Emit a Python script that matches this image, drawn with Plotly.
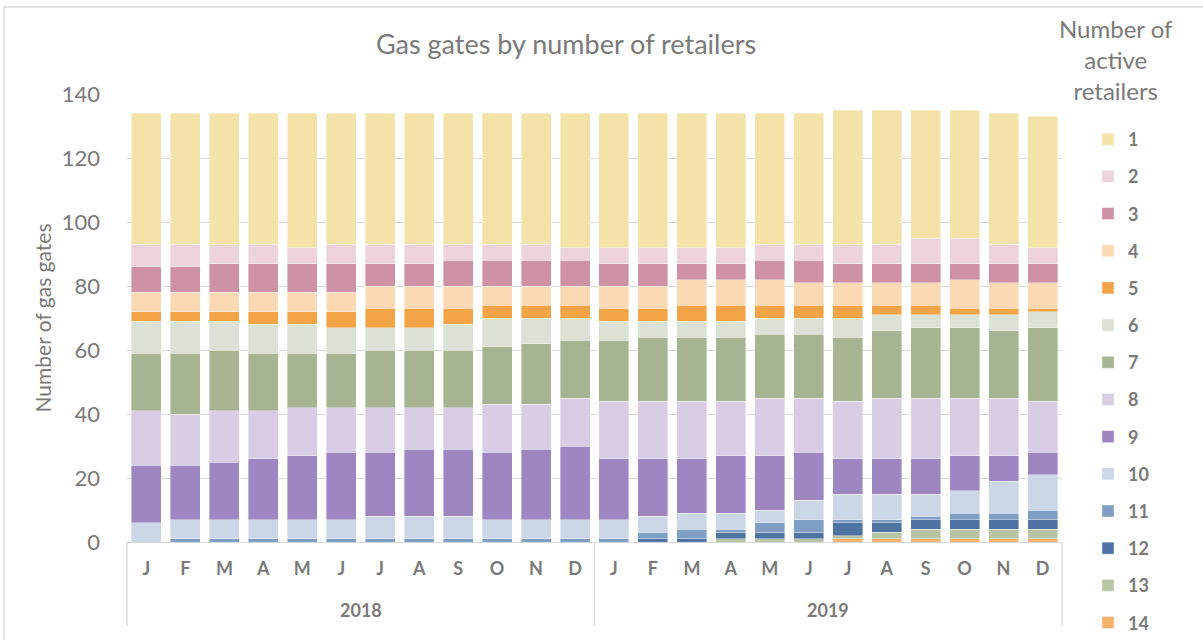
import plotly.graph_objects as go

months = ["J", "F", "M", "A", "M", "J", "J", "A", "S", "O", "N", "D"]
years = ["2018", "2019"]

r1 = [41, 41, 41, 41, 42, 41, 41, 41, 41, 41, 41, 42, 42, 42, 42, 42, 41, 41, 42, 42, 40, 40, 41, 41]
r2 = [7, 7, 6, 6, 5, 6, 6, 6, 5, 5, 5, 4, 5, 5, 5, 5, 5, 5, 6, 6, 8, 8, 6, 5]
r3 = [8, 8, 9, 9, 9, 9, 7, 7, 8, 8, 8, 8, 7, 7, 5, 5, 6, 7, 6, 6, 6, 5, 6, 6]
r4 = [6, 6, 6, 6, 6, 6, 7, 7, 7, 6, 6, 6, 7, 7, 8, 8, 8, 7, 7, 7, 7, 9, 8, 8]
r5 = [3, 3, 3, 4, 4, 5, 6, 6, 5, 4, 4, 4, 4, 4, 5, 5, 4, 4, 4, 3, 3, 2, 2, 1]
r6 = [10, 10, 9, 9, 9, 8, 7, 7, 8, 9, 8, 7, 6, 5, 5, 5, 5, 5, 6, 5, 4, 4, 5, 5]
r7 = [18, 19, 19, 18, 17, 17, 18, 18, 18, 18, 19, 18, 19, 20, 20, 20, 20, 20, 20, 21, 22, 22, 21, 23]
r8 = [17, 16, 16, 15, 15, 14, 14, 13, 13, 15, 14, 15, 18, 18, 18, 17, 18, 17, 18, 19, 19, 18, 18, 16]
r9 = [18, 17, 18, 19, 20, 21, 20, 21, 21, 21, 22, 23, 19, 18, 17, 18, 17, 15, 11, 11, 11, 11, 8, 7]
r10 = [6, 6, 6, 6, 6, 6, 7, 7, 7, 6, 6, 6, 6, 5, 5, 5, 4, 6, 8, 8, 7, 7, 10, 11]
r11 = [0, 1, 1, 1, 1, 1, 1, 1, 1, 1, 1, 1, 1, 2, 3, 1, 3, 4, 1, 1, 1, 2, 2, 3]
r12 = [0, 0, 0, 0, 0, 0, 0, 0, 0, 0, 0, 0, 0, 1, 1, 2, 2, 2, 4, 3, 3, 3, 3, 3]
r13 = [0, 0, 0, 0, 0, 0, 0, 0, 0, 0, 0, 0, 0, 0, 0, 1, 1, 1, 1, 2, 3, 3, 3, 3]
r14 = [0, 0, 0, 0, 0, 0, 0, 0, 0, 0, 0, 0, 0, 0, 0, 0, 0, 0, 1, 1, 1, 1, 1, 1]

series_names = ["1", "2", "3", "4", "5", "6", "7", "8", "9", "10", "11", "12", "13", "14"]
series_values = [r1, r2, r3, r4, r5, r6, r7, r8, r9, r10, r11, r12, r13, r14]
colors = ["#F4E3A9", "#ECD3DC", "#CF91A6", "#FAD9B4", "#F3A446", "#DBE1D4", "#A6B491",
          "#D8CDE5", "#9D86C2", "#CBD7E6", "#7F9EC3", "#4F74A4", "#B8C4A6", "#F6B26B"]

n = len(r1)
xs = list(range(n))
tick_text = months * len(years)

W, H = 1203, 640
ML, MR, MT, MB = 127, 141, 94, 98
PW, PH = W - ML - MR, H - MT - MB

FONT = "Lato, 'Open Sans', sans-serif"
GREY = "#7a7a7a"

fig = go.Figure()
# bottom of the stack is the highest retailer count
for idx in range(len(series_names) - 1, -1, -1):
    fig.add_trace(go.Bar(
        x=xs, y=series_values[idx], name="<b>" + series_names[idx] + "</b>",
        marker=dict(color=colors[idx], line=dict(color="rgba(255,255,255,0.55)", width=0.7)),
        legendgroup=series_names[idx], legendrank=idx + 1,
        hovertemplate="%{y}<extra>" + series_names[idx] + "</extra>",
    ))

def px_x(px):
    return (px - ML) / PW

def px_y(py):
    return (H - MB - py) / PH

shapes = []
# group dividers under the axis (computed from the category count)
per_year = len(months)
for k in range(len(years) + 1):
    xp = k * per_year / n
    shapes.append(dict(type="line", xref="paper", yref="paper", x0=xp, x1=xp,
                       y0=0, y1=px_y(626), line=dict(color="#d9d9d9", width=1.3)))
# outer chart border
shapes.append(dict(type="rect", xref="paper", yref="paper", x0=px_x(4), x1=px_x(1215),
                   y0=px_y(655), y1=px_y(7), line=dict(color="#d9d9d9", width=1.3),
                   fillcolor="rgba(0,0,0,0)", layer="below"))

annotations = []
for k, yr in enumerate(years):
    annotations.append(dict(text="<b>" + yr + "</b>", xref="paper", yref="paper",
                            x=(k * per_year + per_year / 2) / n, y=px_y(610),
                            xanchor="center", yanchor="middle", showarrow=False,
                            font=dict(family=FONT, size=18, color=GREY)))
annotations.append(dict(text="Number of<br>active<br>retailers", xref="paper", yref="paper",
                        x=px_x(1116), y=px_y(60), xanchor="center", yanchor="middle",
                        showarrow=False, align="center",
                        font=dict(family=FONT, size=24, color=GREY)))

fig.update_layout(
    width=W, height=H,
    margin=dict(l=ML, r=MR, t=MT, b=MB, autoexpand=False),
    paper_bgcolor="white", plot_bgcolor="white",
    barmode="stack", bargap=0.23,
    font=dict(family=FONT, color=GREY),
    title=dict(text="Gas gates by number of retailers", x=566 / W, xanchor="center",
               xref="container", y=1 - 45 / H, yref="container", yanchor="middle",
               font=dict(family=FONT, size=27, color=GREY)),
    xaxis=dict(range=[-0.5, n - 0.5], tickmode="array", tickvals=xs,
               ticktext=["<b>" + t + "</b>" for t in tick_text],
               tickfont=dict(family=FONT, size=18, color=GREY),
               showgrid=False, zeroline=False, showline=True, linecolor="#d9d9d9",
               linewidth=1.3, ticks="", ticklabelstandoff=10, automargin=False),
    yaxis=dict(range=[0, 140], tickmode="array", tickvals=[0, 20, 40, 60, 80, 100, 120, 140],
               tickfont=dict(family=FONT, size=22, color=GREY),
               showgrid=True, gridcolor="#d9d9d9", gridwidth=1.3, zeroline=False,
               showline=False, ticks="", ticklabelstandoff=26, automargin=False,
               title=dict(text="Number of gas gates", font=dict(family=FONT, size=21, color=GREY),
                          standoff=4)),
    legend=dict(xref="container", yref="container", x=1088 / W, xanchor="left",
                y=1 - 121 / H, yanchor="top", traceorder="grouped", tracegroupgap=10.78,
                font=dict(family=FONT, size=18, color=GREY), itemwidth=30,
                bgcolor="rgba(0,0,0,0)", maxheight=1.0),
    shapes=shapes, annotations=annotations,
    showlegend=True,
)

fig.write_html("out.html", config={"displayModeBar": False},
               post_script="document.body.style.margin='0';")
